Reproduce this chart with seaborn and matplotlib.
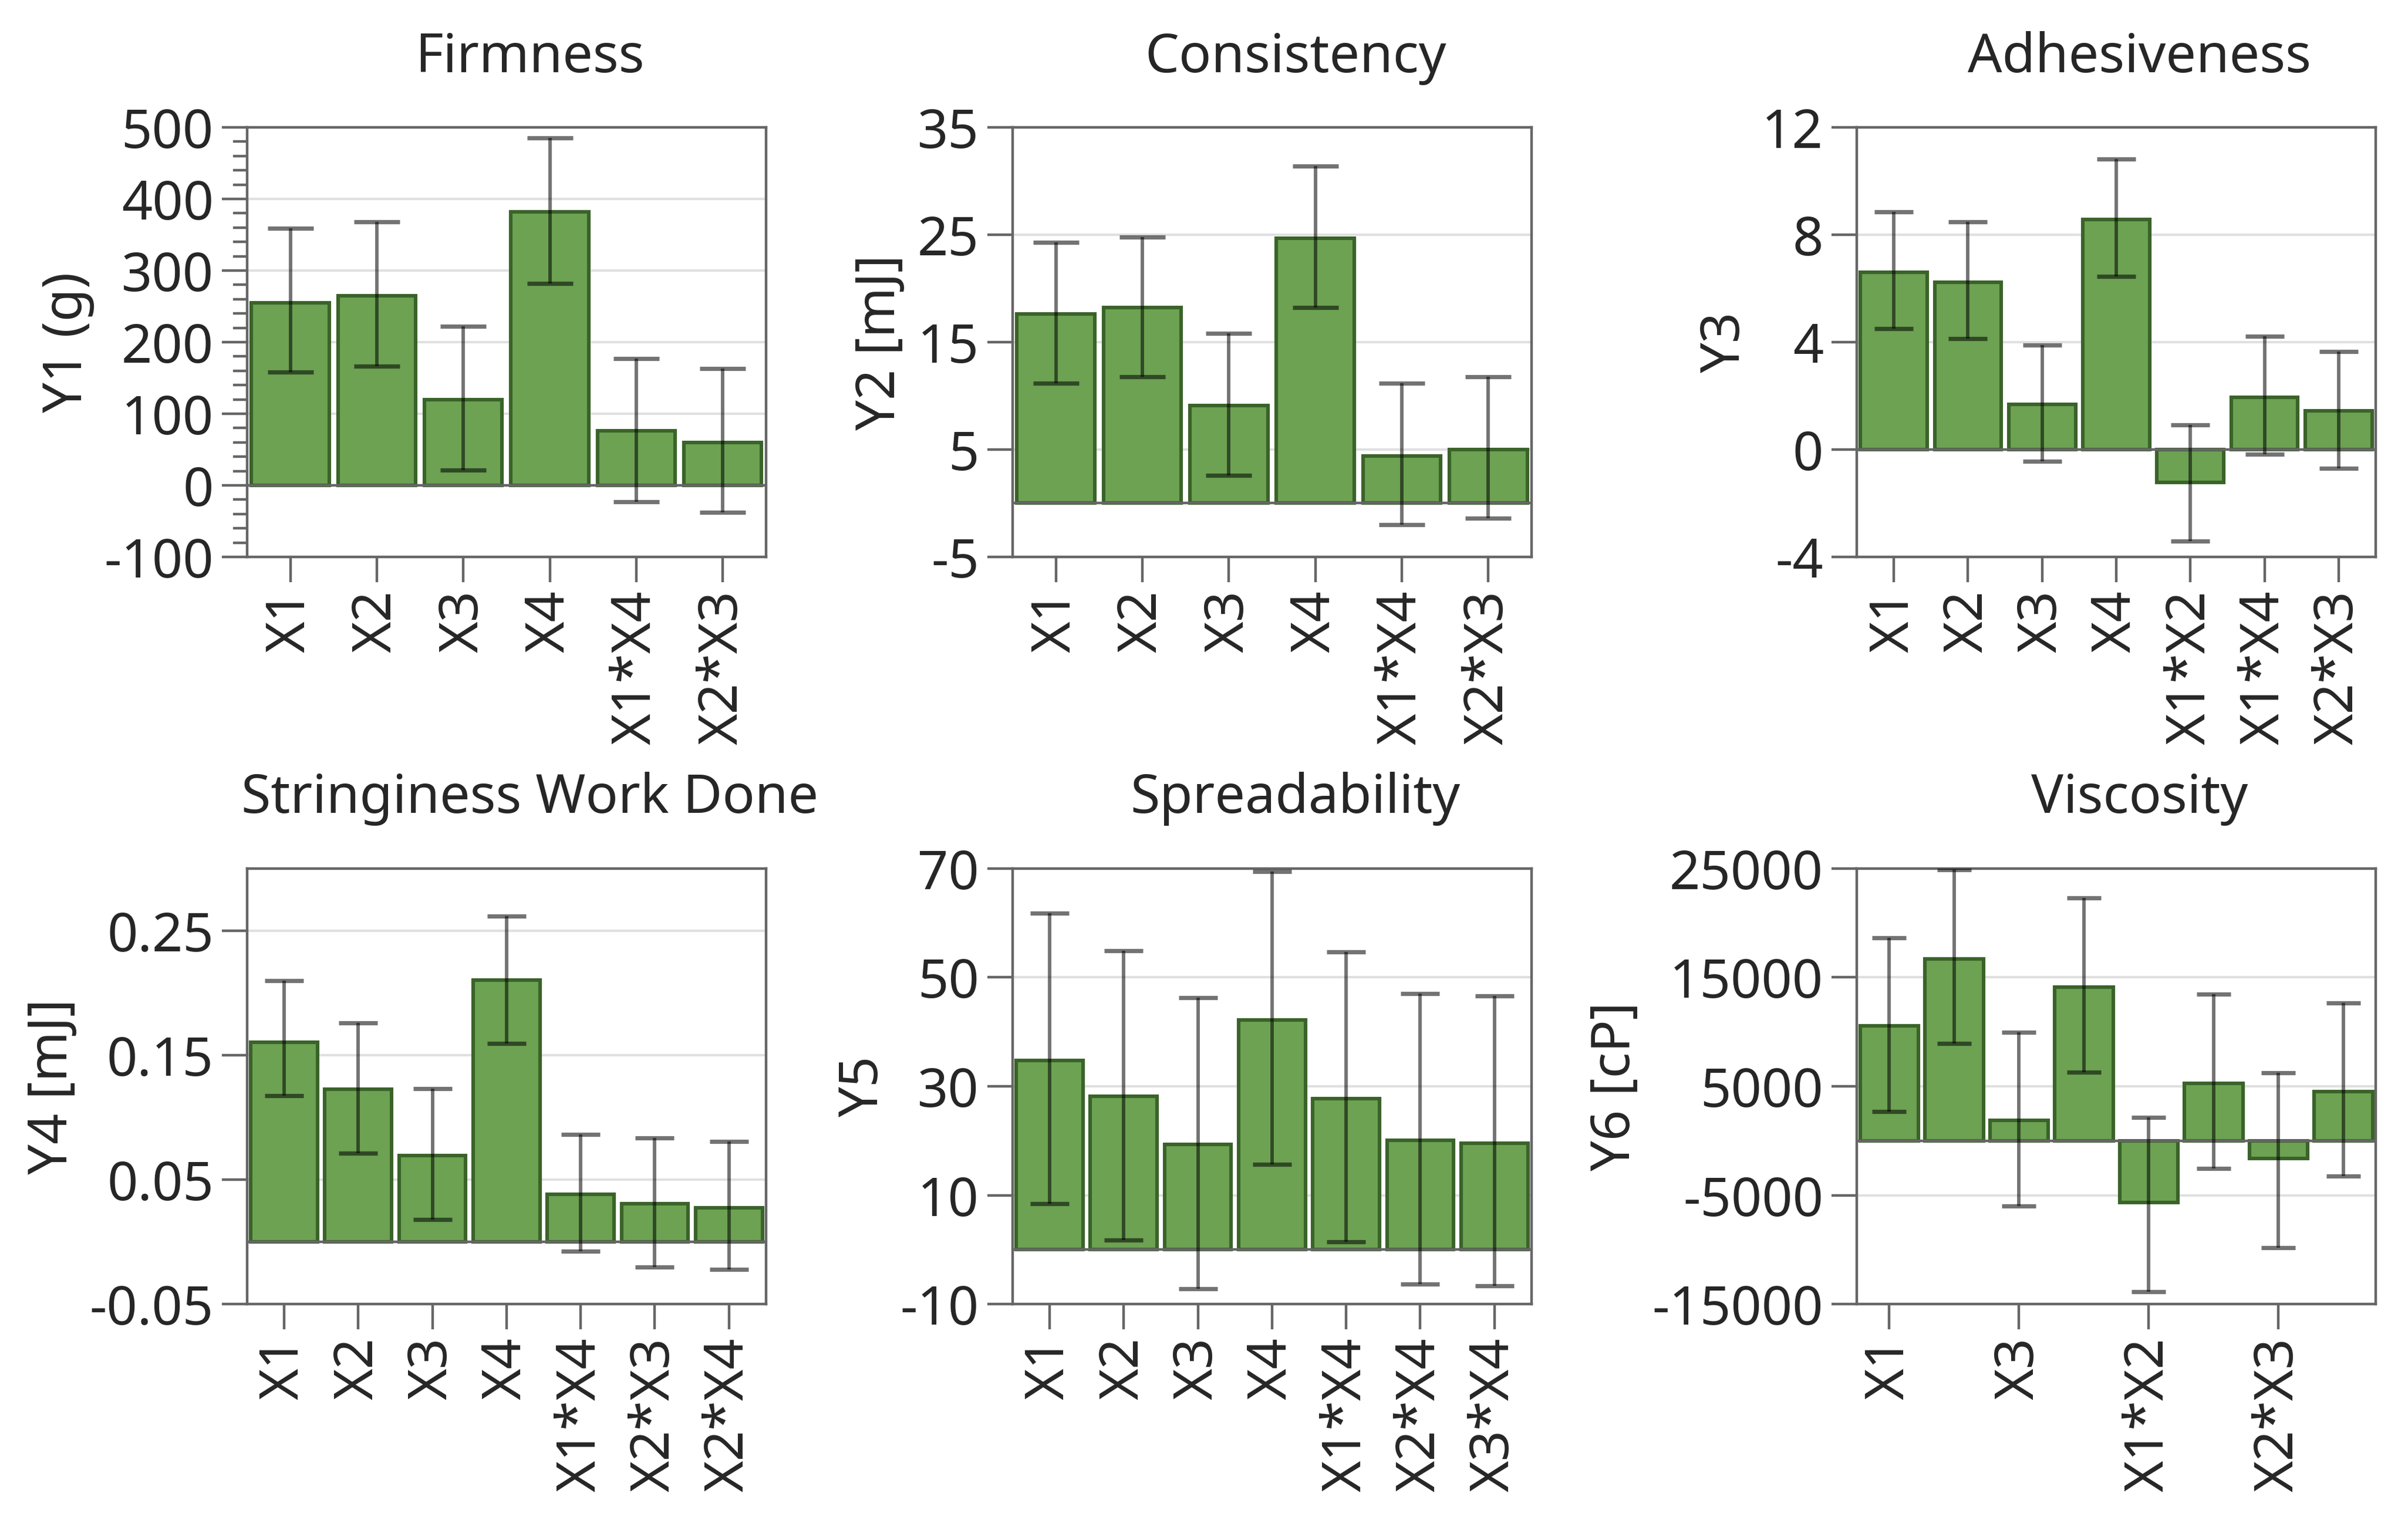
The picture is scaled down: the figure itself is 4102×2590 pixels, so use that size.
import numpy as np
import pandas as pd
import matplotlib
matplotlib.use("Agg")
import matplotlib.pyplot as plt
from matplotlib.ticker import MultipleLocator, FuncFormatter
import seaborn as sns

# Firmness
firm_terms = ["X1", "X2", "X3", "X4", "X1*X4", "X2*X3"]
firm_est = [255, 265, 120, 382, 76, 60]
firm_lo = [158, 166, 21, 282, -23, -38]
firm_hi = [359, 368, 222, 485, 177, 163]

# Consistency
cons_terms = ["X1", "X2", "X3", "X4", "X1*X4", "X2*X3"]
cons_est = [17.6, 18.2, 9.1, 24.7, 4.4, 5.0]
cons_lo = [11.2, 11.8, 2.6, 18.2, -2.0, -1.4]
cons_hi = [24.3, 24.8, 15.8, 31.4, 11.2, 11.8]

# Adhesiveness
adh_terms = ["X1", "X2", "X3", "X4", "X1*X2", "X1*X4", "X2*X3"]
adh_est = [6.6, 6.23, 1.69, 8.57, -1.22, 1.94, 1.45]
adh_lo = [4.5, 4.14, -0.44, 6.45, -3.4, -0.18, -0.7]
adh_hi = [8.85, 8.48, 3.9, 10.82, 0.91, 4.21, 3.65]

# Stringiness work done
str_terms = ["X1", "X2", "X3", "X4", "X1*X4", "X2*X3", "X2*X4"]
str_est = [0.1606, 0.1225, 0.0695, 0.2104, 0.0385, 0.0306, 0.0275]
str_lo = [0.1174, 0.0715, 0.018, 0.1594, -0.0075, -0.0204, -0.022]
str_hi = [0.2097, 0.176, 0.1233, 0.262, 0.0864, 0.0836, 0.0809]

# Spreadability
spr_terms = ["X1", "X2", "X3", "X4", "X1*X4", "X2*X4", "X3*X4"]
spr_est = [34.8, 28.2, 19.3, 42.2, 27.7, 20.1, 19.5]
spr_lo = [8.45, 1.8, -7.2, 15.7, 1.5, -6.3, -6.6]
spr_hi = [61.75, 54.9, 46.3, 69.4, 54.65, 47.0, 46.6]

# Viscosity (every second term label is not shown in the original)
vis_terms = ["X1", "X2", "X3", "X4", "X1*X2", "X1*X4", "X2*X3", "X2*X4"]
vis_est = [10560, 16720, 1890, 14110, -5660, 5300, -1620, 4540]
vis_lo = [2700, 8940, -5980, 6290, -13840, -2520, -9840, -3240]
vis_hi = [18650, 24900, 9980, 22290, 2160, 13440, 6250, 12630]

panels = [
    dict(title="Firmness", ylabel="Y1 (g)", terms=firm_terms, est=firm_est,
         lo=firm_lo, hi=firm_hi, ylim=(-100, 500), step=100, minor=20, label_every=1),
    dict(title="Consistency", ylabel="Y2 [mJ]", terms=cons_terms, est=cons_est,
         lo=cons_lo, hi=cons_hi, ylim=(-5, 35), step=10, minor=None, label_every=1),
    dict(title="Adhesiveness", ylabel="Y3", terms=adh_terms, est=adh_est,
         lo=adh_lo, hi=adh_hi, ylim=(-4, 12), step=4, minor=None, label_every=1),
    dict(title="Stringiness Work Done", ylabel="Y4 [mJ]", terms=str_terms, est=str_est,
         lo=str_lo, hi=str_hi, ylim=(-0.05, 0.30), step=0.1, minor=None, label_every=1,
         ticks=[-0.05, 0.05, 0.15, 0.25]),
    dict(title="Spreadability", ylabel="Y5", terms=spr_terms, est=spr_est,
         lo=spr_lo, hi=spr_hi, ylim=(-10, 70), step=20, minor=None, label_every=1),
    dict(title="Viscosity", ylabel="Y6 [cP]", terms=vis_terms, est=vis_est,
         lo=vis_lo, hi=vis_hi, ylim=(-15000, 25000), step=10000, minor=None, label_every=2),
]

sns.set_style("white")
plt.rcParams["font.family"] = ["Noto Sans", "DejaVu Sans"]
plt.rcParams["axes.unicode_minus"] = False

DPI = 200
fig = plt.figure(figsize=(4102 / DPI, 2590 / DPI), dpi=DPI)

fill = "#6ca252"
edge = "#3a6329"
spine = "#666666"
fs = 33

lefts = [0.1026, 0.4205, 0.7711]
width = 0.2155
rows = [(0.6336, 0.2826), (0.1420, 0.2866)]

for i, p in enumerate(panels):
    r, c = divmod(i, 3)
    bottom, height = rows[r]
    ax = fig.add_axes([lefts[c], bottom, width, height])

    df = pd.DataFrame({"term": p["terms"], "est": p["est"],
                       "lo": p["lo"], "hi": p["hi"]})
    n = len(df)
    sns.barplot(data=df, x="term", y="est", order=p["terms"], color=fill,
                saturation=1, width=0.9, edgecolor=edge, linewidth=2.2,
                errorbar=None, ax=ax, zorder=2)

    pos = np.arange(n)
    est = df["est"].to_numpy()
    yerr = [est - df["lo"].to_numpy(), df["hi"].to_numpy() - est]
    spacing_px = width * 4102 / n
    cap = 0.265 * spacing_px * 72 / DPI
    ax.errorbar(pos, est, yerr=yerr, fmt="none", ecolor=(0, 0, 0, 0.55),
                elinewidth=2.1, capsize=cap, capthick=2.6, zorder=4)

    lo_lim, hi_lim = p["ylim"]
    ax.set_xlim(-0.5, n - 0.5)
    ax.set_ylim(lo_lim, hi_lim)
    ticks = p.get("ticks")
    if ticks is None:
        ticks = np.arange(lo_lim, hi_lim + p["step"] / 2, p["step"])
    ax.set_yticks(ticks)
    if p["title"] == "Stringiness Work Done":
        ax.yaxis.set_major_formatter(FuncFormatter(lambda v, _: f"{v:.2f}"))
    else:
        ax.yaxis.set_major_formatter(FuncFormatter(lambda v, _: f"{v:.0f}"))
    if p["minor"]:
        ax.yaxis.set_minor_locator(MultipleLocator(p["minor"]))
        ax.tick_params(axis="y", which="minor", length=8.5, width=1.6,
                       color=spine, left=True)

    for t in ticks:
        if lo_lim < t < hi_lim and abs(t) > 1e-12:
            ax.axhline(t, color="#e0e0e0", lw=1.5, zorder=0.5)
    ax.axhline(0, color=spine, lw=1.6, zorder=3)

    step = p["label_every"]
    ax.set_xticks(pos[::step], p["terms"][::step], rotation=90)
    ax.set_xlabel("")
    ax.set_ylabel(p["ylabel"], fontsize=fs, labelpad=6)

    ax.tick_params(axis="both", which="major", length=15.5, width=1.6,
                   color=spine, labelsize=fs, pad=5, direction="out",
                   left=True, bottom=True)
    for s in ax.spines.values():
        s.set_color(spine)
        s.set_linewidth(1.6)
        s.set_visible(True)

    ax.set_title(p["title"], fontsize=fs, x=0.545, pad=34)

fig.savefig("out.png", dpi=DPI, facecolor="white")
